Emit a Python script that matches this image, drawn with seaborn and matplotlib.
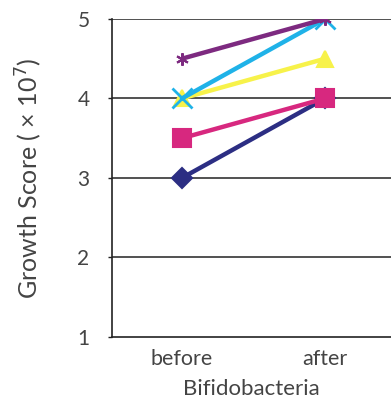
import matplotlib
matplotlib.use("Agg")
import matplotlib.pyplot as plt
import seaborn as sns
import pandas as pd

categories = ["before", "after"]
navy_vals = [3.0, 4.0]
magenta_vals = [3.5, 4.0]
yellow_vals = [4.0, 4.5]
cyan_vals = [4.0, 5.0]
purple_vals = [4.5, 5.0]

series = [
    ("navy", navy_vals, "#2C2E83", "D", 10),
    ("magenta", magenta_vals, "#D7287F", "s", 13),
    ("yellow", yellow_vals, "#F7F24A", "^", 12),
    ("cyan", cyan_vals, "#1FB2E8", "x", 14),
    ("purple", purple_vals, "#7D2A80", (6, 2, 0), 9),
]

sns.set_style("white")
plt.rcParams['font.family'] = ['Lato', 'DejaVu Sans']

fig = plt.figure(figsize=(3.91, 4.03), dpi=100)
ax = fig.add_axes([0.286, 0.164, 0.714, 0.789])

for name, vals, color, marker, ms in series:
    df = pd.DataFrame({"phase": categories, "score": vals})
    sns.lineplot(data=df, x="phase", y="score", ax=ax, color=color,
                 linewidth=3.2, marker=marker, markersize=ms,
                 markeredgecolor=color, markeredgewidth=2 if marker == "x" else 1.5,
                 markerfacecolor=color, zorder=3)

ax.set_xlim(-0.49, 1.46)
ax.set_ylim(1, 5)
ax.set_yticks([1, 2, 3, 4, 5])
for y in [2, 3, 4, 5]:
    ax.axhline(y, color="#333333", linewidth=1.2, zorder=1)

txt = "#444444"
ax.set_xticks([0, 1])
ax.set_xticklabels(categories)
ax.set_xticks([0.5], minor=True)
ax.tick_params(axis="x", which="major", length=0, pad=9, labelsize=15.5, labelcolor=txt)
ax.tick_params(axis="x", which="minor", direction="in", length=5, width=1, color="#222222")
ax.tick_params(axis="y", length=3, width=1, pad=13, labelsize=15, labelcolor=txt, left=True, color="#222222")

for s in ["top", "right"]:
    ax.spines[s].set_visible(False)
for s in ["left", "bottom"]:
    ax.spines[s].set_color("#222222")
    ax.spines[s].set_linewidth(1.2)

ax.set_xlabel("Bifidobacteria", fontsize=16, color=txt, labelpad=7)
ax.set_ylabel("Growth Score ( × 10$^7$)", fontsize=18, color=txt, labelpad=24)

fig.savefig("out.png", dpi=100)
